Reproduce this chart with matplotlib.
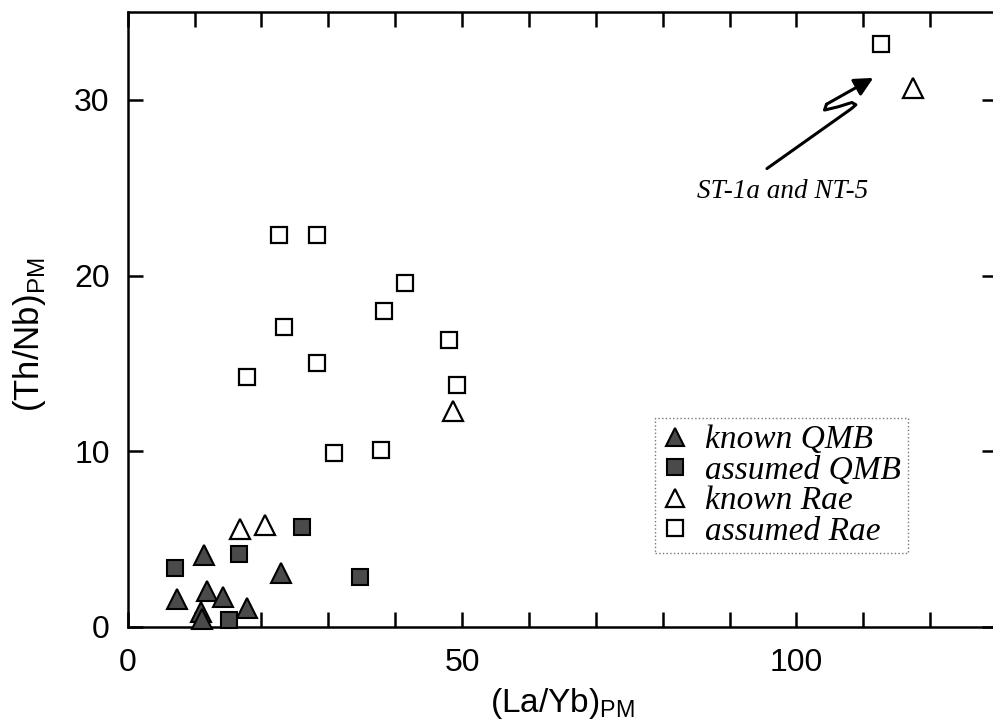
import numpy as np
import matplotlib
matplotlib.use('Agg')
import matplotlib.pyplot as plt
from matplotlib.ticker import MultipleLocator, FixedLocator

# data
known_qmb_x = [11.4, 22.9, 7.4, 11.8, 14.3, 17.9, 10.9, 11.1]
known_qmb_y = [4.1, 3.1, 1.57, 2.05, 1.69, 1.10, 0.87, 0.45]
assumed_qmb_x = [7.1, 16.6, 26.1, 34.8, 15.2]
assumed_qmb_y = [3.33, 4.15, 5.7, 2.86, 0.4]
known_rae_x = [16.8, 20.6, 48.6, 117.4]
known_rae_y = [5.6, 5.8, 12.3, 30.7]
assumed_rae_x = [22.6, 28.3, 41.5, 38.4, 23.3, 48.0, 28.3, 17.8, 49.3, 30.8, 37.9, 112.7]
assumed_rae_y = [22.3, 22.3, 19.6, 18.0, 17.1, 16.35, 15.0, 14.2, 13.75, 9.9, 10.1, 33.2]

x_ticks = [0, 50, 100]
y_ticks = [0, 10, 20, 30]

plt.rcParams['font.family'] = ['Liberation Sans', 'DejaVu Sans']
plt.rcParams['mathtext.fontset'] = 'custom'
plt.rcParams['mathtext.rm'] = 'Liberation Sans'

fig = plt.figure(figsize=(9.93, 7.27), dpi=100)
ax = fig.add_axes([127.7 / 993, 100 / 727, 869.3 / 993, 615 / 727])

dark = '#4a4a4a'
ax.plot(known_qmb_x, known_qmb_y, ls='none', marker='^', ms=14, mfc=dark, mec='black',
        mew=1.5, clip_on=False, label='known QMB', zorder=3)
ax.plot(assumed_qmb_x, assumed_qmb_y, ls='none', marker='s', ms=12, mfc=dark, mec='black',
        mew=1.5, clip_on=False, label='assumed QMB', zorder=3)
ax.plot(known_rae_x, known_rae_y, ls='none', marker='^', ms=14, mfc='white', mec='black',
        mew=1.6, clip_on=False, label='known Rae', zorder=3)
ax.plot(assumed_rae_x, assumed_rae_y, ls='none', marker='s', ms=12, mfc='white', mec='black',
        mew=1.6, clip_on=False, label='assumed Rae', zorder=3)

ax.set_xlim(0, 130)
ax.set_ylim(0, 35)
ax.xaxis.set_major_locator(FixedLocator(x_ticks))
ax.xaxis.set_minor_locator(MultipleLocator(10))
ax.yaxis.set_major_locator(FixedLocator(y_ticks))
ax.tick_params(which='both', direction='in', top=True, right=True, length=11, width=1.8)
ax.tick_params(axis='x', which='major', labelsize=23, pad=15)
ax.tick_params(axis='y', which='major', labelsize=23, pad=13)
for s in ax.spines.values():
    s.set_linewidth(1.8)

ax.set_xlabel(r'(La/Yb)$_{\mathregular{PM}}$', fontsize=24, labelpad=6)
ax.set_ylabel(r'(Th/Nb)$_{\mathregular{PM}}$', fontsize=25)
ax.yaxis.set_label_coords(-0.0917, 0.475)

# annotation: zig-zag arrow to the two outliers
zz_x = [95.6, 108.2, 108.9, 108.3, 106.2, 104.2, 104.5]
zz_y = [26.09, 29.49, 29.72, 29.85, 29.6, 29.42, 29.75]
ax.plot(zz_x, zz_y, color='black', lw=2.2, solid_capstyle='round', solid_joinstyle='round')
ax.annotate('', xy=(111.5, 31.25), xytext=(104.5, 29.75),
            arrowprops=dict(arrowstyle='-|>', lw=2.2, color='black', mutation_scale=28,
                            shrinkA=0, shrinkB=0))
ax.text(97.95, 24.8, 'ST-1a and NT-5', fontsize=19.5, style='italic', ha='center',
        va='center', family='Liberation Serif')

leg = ax.legend(loc='upper left', bbox_to_anchor=(655 / 993, 1 - 418 / 727),
                bbox_transform=fig.transFigure, prop={'family': 'Liberation Serif',
                                                     'style': 'italic', 'size': 24},
                fancybox=False, handlelength=0.8, handletextpad=0.5, labelspacing=0.0,
                borderpad=0.2, borderaxespad=0, markerscale=0.95)
frame = leg.get_frame()
frame.set_edgecolor('#555555')
frame.set_linewidth(1.0)
frame.set_linestyle(':')

fig.savefig('out.png', dpi=100)
